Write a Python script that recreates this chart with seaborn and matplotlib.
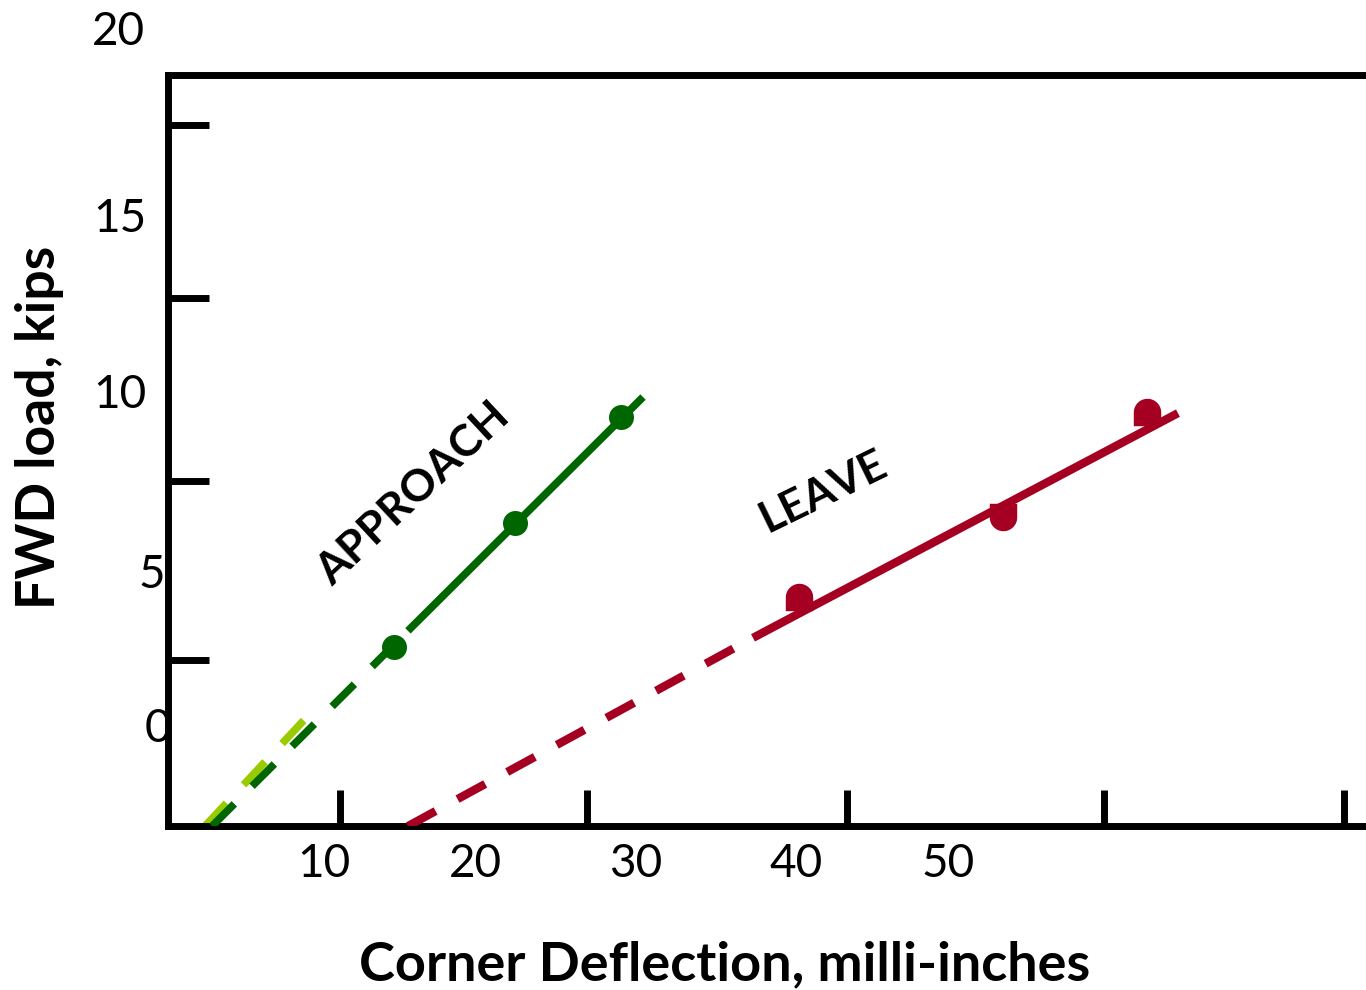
import matplotlib
matplotlib.use("Agg")
import matplotlib.pyplot as plt
import numpy as np
import seaborn as sns
from matplotlib.path import Path

# ---------------- data (x: corner deflection axis units, y: FWD load, kips) ----------------
approach_defl = [14.49, 22.24, 29.04]
approach_load = [2.59, 6.13, 9.17]
leave_defl = [40.45, 53.53, 62.76]
leave_load = [4.02, 6.30, 9.30]
leave_above_line = [True, False, True]

# fitted trend lines (solid over measured range, dashed extrapolation)
approach_solid_x = [15.38, 30.45]
approach_solid_y = [3.05, 9.73]
approach_dash_x = [2.82, 15.38]
approach_dash_y = [-2.53, 3.05]
approach_alt_dash_x = [2.37, 8.97]
approach_alt_dash_y = [-2.53, 0.62]
leave_solid_x = [37.5, 64.74]
leave_solid_y = [2.85, 9.27]
leave_dash_x = [15.38, 37.5]
leave_dash_y = [-2.53, 2.85]

x_ticks = [11.03, 26.86, 43.5, 60.03, 75.41]
y_ticks = [2.22, 7.33, 12.56, 17.50]
x_tick_labels = ["10", "20", "30", "40", "50"]
y_tick_labels = ["20", "15", "10", "5", "0"]

# ---------------- style ----------------
W, H = 1366, 990
sns.set_theme(style="white")
plt.rcParams["font.family"] = ["Lato", "DejaVu Sans"]
plt.rcParams["lines.scale_dashes"] = False

GREEN = "#006600"
LIGHT_GREEN = "#99CC00"
RED = "#A50021"
DASH = (22.7, 18.0)


def capsule(direction):
    """Rounded dot with a short stem toward the trend line (direction -1 = down, +1 = up)."""
    t = np.linspace(0, np.pi, 30)
    arc = np.column_stack([0.5 * np.cos(t), -direction * 0.5 * np.sin(t)])
    stem = np.array([[-0.5, direction * 0.5], [0.5, direction * 0.5], [0.5, 0.0]])
    verts = np.vstack([[[0.5, 0.0]], arc, stem])
    return Path(verts, closed=True)


fig = plt.figure(figsize=(W / 100, H / 100), dpi=100)
ax = fig.add_axes([168 / W, (H - 826) / H, (W - 168) / W, (826 - 75) / H])
ax.set_xlim(0, (W - 168) / 15.6)
ax.set_ylim((737.6 - 826) / 35, (737.6 - 75) / 35)

# light green extrapolation
sns.lineplot(x=approach_alt_dash_x, y=approach_alt_dash_y, color=LIGHT_GREEN, lw=5.5, ax=ax, zorder=2)
ax.lines[-1].set_dashes(DASH)
# approach line
sns.lineplot(x=approach_dash_x, y=approach_dash_y, color=GREEN, lw=5.5, ax=ax, zorder=3)
ax.lines[-1].set_dashes(DASH)
sns.lineplot(x=approach_solid_x, y=approach_solid_y, color=GREEN, lw=5.5, ax=ax, zorder=3)
ax.lines[-1].set_solid_capstyle("butt")
sns.scatterplot(x=approach_defl, y=approach_load, color=GREEN, s=324, linewidth=0, ax=ax, zorder=4)

# leave points and line
for above in (True, False):
    xs = [x for x, a in zip(leave_defl, leave_above_line) if a == above]
    ys = [y for y, a in zip(leave_load, leave_above_line) if a == above]
    sns.scatterplot(x=xs, y=ys, color=RED, s=390, linewidth=0, ax=ax, zorder=3,
                    marker=capsule(-1 if above else 1))
sns.lineplot(x=leave_dash_x, y=leave_dash_y, color=RED, lw=6, ax=ax, zorder=4)
ax.lines[-1].set_dashes(DASH)
sns.lineplot(x=leave_solid_x, y=leave_solid_y, color=RED, lw=6, ax=ax, zorder=4)
ax.lines[-1].set_solid_capstyle("butt")

# spines / ticks
for side in ["left", "top", "bottom"]:
    ax.spines[side].set_visible(True)
    ax.spines[side].set_color("black")
    ax.spines[side].set_linewidth(5)
ax.spines["right"].set_visible(False)
ax.set_xticks(x_ticks)
ax.set_yticks(y_ticks)
ax.tick_params(axis="x", direction="in", length=26, width=5, color="black",
               bottom=True, top=False, labelbottom=False)
ax.tick_params(axis="y", direction="in", length=29.5, width=5, color="black",
               left=True, right=False, labelleft=False)
ax.grid(False)
ax.set_xlabel("")
ax.set_ylabel("")


def ftxt(px, py, s, **kw):
    fig.text(px / W, 1 - py / H, s, **kw)


# tick labels (placed as in the original slide)
y_label_pos = [(118.5, 45), (119.5, 232), (119.5, 408), (151.5, 588), (158, 742)]
for (px, py), s in zip(y_label_pos, y_tick_labels):
    ftxt(px, py, s, ha="center", va="baseline", fontsize=33, color="black", zorder=0)
x_label_pos = [323.6, 475, 636, 796.5, 948]
for px, s in zip(x_label_pos, x_tick_labels):
    ftxt(px, 877, s, ha="center", va="baseline", fontsize=33, color="black")

# axis titles
ftxt(724.5, 980, "Corner Deflection, milli-inches", ha="center", va="baseline",
     fontsize=39, fontweight="bold", color="black")
ftxt(40, 427, "FWD load, kips", ha="center", va="center", rotation=90,
     fontsize=38.5, fontweight="bold", color="black")

# series annotations
ftxt(413, 494, "APPROACH", ha="center", va="center", rotation=43, rotation_mode="anchor",
     fontsize=32, fontweight="bold", color="black")
ftxt(823, 491, "LEAVE", ha="center", va="center", rotation=26, rotation_mode="anchor",
     fontsize=32, fontweight="bold", color="black")

fig.savefig("out.png", dpi=100, facecolor="white")
